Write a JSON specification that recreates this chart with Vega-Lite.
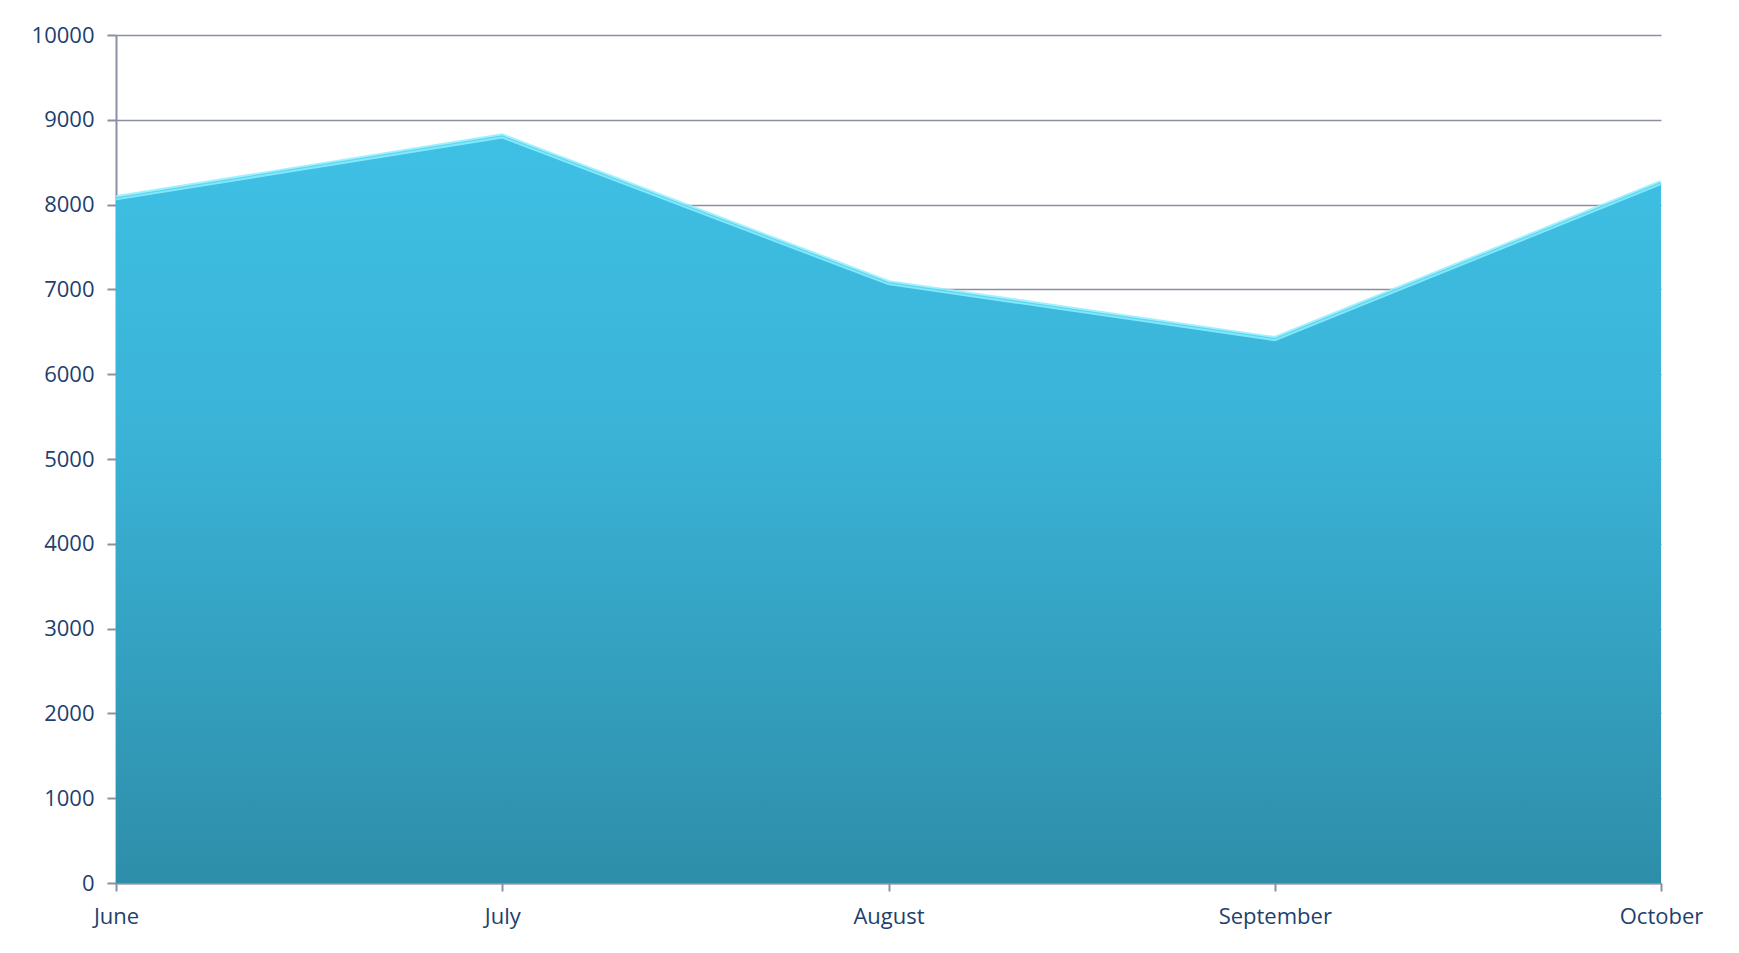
{
  "$schema": "https://vega.github.io/schema/vega-lite/v6.json",
  "autosize": "none",
  "padding": {"left": 116, "top": 35, "right": 78, "bottom": 70},
  "width": 1545,
  "height": 848,
  "background": "white",
  "config": {
    "view": {"stroke": null},
    "axis": {
      "labelFont": "Open Sans",
      "labelFontSize": 22,
      "labelColor": "#1F3F6E",
      "domainColor": "#8B8FA3",
      "tickColor": "#8B8FA3",
      "gridColor": "#8B8FA3",
      "domainWidth": 2,
      "tickWidth": 2,
      "gridWidth": 1.5
    }
  },
  "data": {
    "values": [
      {"month": "June", "value": 8080},
      {"month": "July", "value": 8810},
      {"month": "August", "value": 7080},
      {"month": "September", "value": 6420},
      {"month": "October", "value": 8260}
    ]
  },
  "encoding": {
    "x": {
      "field": "month",
      "type": "ordinal",
      "sort": null,
      "scale": {"type": "point", "padding": 0},
      "axis": {"title": null, "labelAngle": 0, "tickSize": 8, "labelPadding": 15, "grid": false}
    },
    "y": {
      "field": "value",
      "type": "quantitative",
      "scale": {"domain": [0, 10000], "nice": false},
      "axis": {"title": null, "format": "d", "values": [0,1000,2000,3000,4000,5000,6000,7000,8000,9000,10000], "tickSize": 9, "labelPadding": 13, "grid": true}
    }
  },
  "layer": [
    {
      "mark": {
        "type": "area",
        "color": {
          "x1": 0, "y1": 0, "x2": 0, "y2": 1,
          "gradient": "linear",
          "stops": [
            {"offset": 0, "color": "#3EC0E4"},
            {"offset": 0.4, "color": "#3AB3D7"},
            {"offset": 1, "color": "#2E8EA9"}
          ]
        }
      }
    },
    {
      "mark": {"type": "line", "color": "#8FEFFF", "strokeWidth": 5, "opacity": 0.85}
    },
    {
      "mark": {"type": "line", "color": "#5FD6F0", "strokeWidth": 1.2}
    }
  ]
}
